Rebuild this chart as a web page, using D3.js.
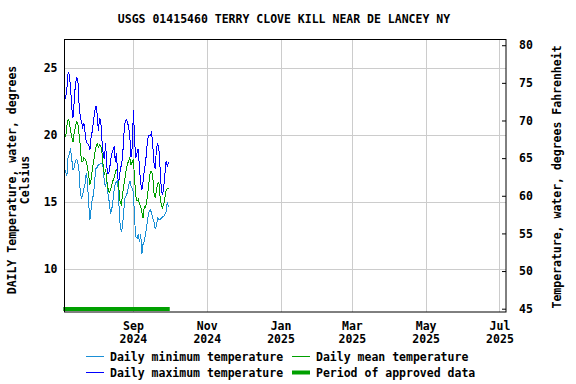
<!DOCTYPE html>
<meta charset="utf-8">
<script src="https://d3js.org/d3.v7.min.js"></script>
<style>
  body { margin: 0; background: #fff; }
  text { font-family: "DejaVu Sans Mono", monospace; font-weight: bold; font-size: 11.5px; fill: #000; }
</style>
<div id="chart"></div>
<script>
// daily values, 2024-07-06 .. 2024-09-30
var startDate = "2024-07-06";
var tMax = [23.0,22.8,23.5,24.7,24.5,23.6,22.0,21.3,22.5,23.8,24.3,24.2,22.4,21.4,21.0,20.6,20.9,20.2,19.5,19.4,
            19.3,18.9,19.9,20.3,21.1,21.8,22.2,21.6,20.3,21.3,21.0,19.6,18.6,18.2,19.4,17.6,17.1,17.3,18.0,18.6,
            18.9,19.1,18.0,18.7,16.8,16.6,17.3,17.8,18.3,20.0,20.9,21.2,21.0,20.6,19.9,18.4,19.1,21.9,19.5,18.3,
            18.7,19.0,17.5,16.4,15.9,16.6,17.4,17.9,19.0,19.8,20.0,20.0,20.2,19.2,17.9,17.5,19.0,19.4,19.0,17.6,
            16.0,15.5,16.1,17.1,18.1,17.7,18.0];
var tMean = [20.0,19.9,20.7,21.2,21.0,20.3,19.9,19.5,20.2,20.6,21.0,20.9,20.1,19.3,18.0,18.0,18.3,18.2,18.0,17.6,
             17.0,16.3,16.7,17.4,18.0,18.6,19.1,19.4,19.1,19.3,19.2,18.7,17.7,17.0,17.5,16.6,16.0,15.7,15.9,16.3,
             16.6,16.8,17.2,17.5,17.0,16.0,15.0,14.8,15.6,16.2,16.8,17.4,17.8,18.1,18.3,17.8,18.0,18.2,16.6,15.4,
             15.1,15.2,14.9,14.7,14.2,13.8,14.7,14.6,15.1,15.8,16.6,17.3,17.3,16.9,15.7,15.3,15.9,16.4,16.5,15.4,
             14.8,14.6,14.8,15.3,15.9,16.0,16.0];
var tMin = [17.6,17.2,17.0,18.4,18.6,19.0,18.2,17.4,17.6,18.1,18.2,18.0,17.3,15.8,15.3,15.5,16.0,16.4,17.2,16.5,
            14.9,13.7,14.5,15.3,15.5,16.7,17.5,17.6,17.8,17.8,17.9,17.9,17.6,16.4,16.2,16.7,15.6,15.0,14.2,14.4,
            15.1,15.9,16.4,16.5,16.6,14.8,13.3,12.8,13.2,14.4,15.3,15.5,15.7,16.2,16.6,16.2,16.0,15.7,13.6,12.4,
            12.3,12.6,12.0,12.6,11.1,11.9,12.1,12.6,13.2,13.9,14.3,14.4,14.2,13.8,13.5,13.0,13.2,13.8,13.7,13.7,
            13.8,13.9,13.9,14.1,14.3,15.0,14.6];
var approved = ["2024-07-05", "2024-10-01"];
var xDomain = ["2024-07-06", "2025-07-06"];
var xTicks = ["2024-09-01","2024-11-01","2025-01-01","2025-03-01","2025-05-01","2025-07-01"];
var yTicksC = [10, 15, 20, 25];
var yTicksF = [45, 50, 55, 60, 65, 70, 75, 80];

var colMin = "#1a8fd6", colMax = "#0000ff", colMean = "#00a000";

var margin = {top: 39.5, right: 70, bottom: 72, left: 64.5},
    W = 576, H = 384,
    width = W - margin.left - margin.right,
    height = H - margin.top - margin.bottom;

var parse = d3.utcParse("%Y-%m-%d");
var t0 = parse(startDate);
function series(arr) {
  return arr.map(function(v, i) { return {date: d3.utcDay.offset(t0, i), value: v}; });
}

var svg = d3.select("#chart").append("svg")
    .attr("width", W).attr("height", H);

svg.append("text")
    .attr("x", 284).attr("y", 23)
    .attr("text-anchor", "middle")
    .text("USGS 01415460 TERRY CLOVE KILL NEAR DE LANCEY NY");

var g = svg.append("g")
    .attr("transform", "translate(" + margin.left + "," + margin.top + ")");

var x = d3.scaleUtc().domain(xDomain.map(parse)).range([0, width]);
var y = d3.scaleLinear().domain([6.79, 27.15]).range([height, 0]);
var yF = d3.scaleLinear().domain([44.56, 80.76]).range([height, 0]);

// grid
g.append("g").selectAll("line").data(xTicks.map(parse)).enter().append("line")
    .attr("x1", function(d) { return Math.round(x(d)); })
    .attr("x2", function(d) { return Math.round(x(d)); })
    .attr("y1", 0).attr("y2", height)
    .attr("stroke", "#cccccc");
g.append("g").selectAll("line").data(yTicksC).enter().append("line")
    .attr("x1", 0).attr("x2", width)
    .attr("y1", function(d) { return Math.round(y(d)); })
    .attr("y2", function(d) { return Math.round(y(d)); })
    .attr("stroke", "#cccccc");

// lines
var line = d3.line()
    .x(function(d) { return x(d.date); })
    .y(function(d) { return y(d.value); });

[[tMin, colMin], [tMean, colMean], [tMax, colMax]].forEach(function(s) {
  g.append("path")
    .datum(series(s[0]))
    .attr("fill", "none")
    .attr("stroke", s[1])
    .attr("stroke-width", 1)
    .attr("shape-rendering", "crispEdges")
    .attr("d", line);
});

// approved period bar
g.append("line")
    .attr("x1", x(parse(approved[0]))).attr("x2", x(parse(approved[1])))
    .attr("y1", height - 3).attr("y2", height - 3)
    .attr("stroke", colMean).attr("stroke-width", 4);

// frame
g.append("rect")
    .attr("width", width).attr("height", height)
    .attr("fill", "none").attr("stroke", "#000");

// left axis
var yAxis = g.append("g")
    .call(d3.axisLeft(y).tickValues(yTicksC).tickSize(0).tickPadding(7));
yAxis.select(".domain").remove();
yAxis.selectAll("text").attr("font-size", null).attr("font-family", null);

// right axis
var yAxisR = g.append("g")
    .attr("transform", "translate(" + width + ",0)")
    .call(d3.axisRight(yF).tickValues(yTicksF).tickSizeInner(-4).tickSizeOuter(0).tickPadding(13));
yAxisR.select(".domain").remove();
yAxisR.selectAll("line").attr("stroke", "#000");
yAxisR.selectAll("text").attr("font-size", null).attr("font-family", null);

// bottom axis: month + year
var fmtM = d3.utcFormat("%b"), fmtY = d3.utcFormat("%Y");
var xl = g.append("g").selectAll("text").data(xTicks.map(parse)).enter().append("text")
    .attr("text-anchor", "middle")
    .attr("transform", function(d) { return "translate(" + x(d) + "," + (height + 18) + ")"; });
xl.append("tspan").attr("x", 0).attr("y", 0).text(function(d) { return fmtM(d); });
xl.append("tspan").attr("x", 0).attr("y", 13).text(function(d) { return fmtY(d); });

// axis titles
svg.append("text")
    .attr("transform", "translate(16," + 180 + ") rotate(-90)")
    .attr("text-anchor", "middle")
    .text("DAILY Temperature, water, degrees");
svg.append("text")
    .attr("transform", "translate(29," + 180 + ") rotate(-90)")
    .attr("text-anchor", "middle")
    .text("Celsius");
svg.append("text")
    .attr("transform", "translate(561," + 177 + ") rotate(-90)")
    .attr("text-anchor", "middle")
    .text("Temperature, water, degrees Fahrenheit");

// legend
var legend = [
  {label: "Daily minimum temperature", color: colMin, w: 1, col: 0, row: 0},
  {label: "Daily mean temperature", color: colMean, w: 1, col: 1, row: 0},
  {label: "Daily maximum temperature", color: colMax, w: 1, col: 0, row: 1},
  {label: "Period of approved data", color: colMean, w: 4, col: 1, row: 1}
];
var colX = [86, 292];
var lg = svg.append("g").selectAll("g").data(legend).enter().append("g")
    .attr("transform", function(d) { return "translate(" + colX[d.col] + "," + (356.5 + d.row * 16) + ")"; });
lg.append("line")
    .attr("x1", 0).attr("x2", 18).attr("y1", 0).attr("y2", 0)
    .attr("stroke", function(d) { return d.color; })
    .attr("stroke-width", function(d) { return d.w; });
lg.append("text")
    .attr("x", 24).attr("y", 4)
    .text(function(d) { return d.label; });
</script>
